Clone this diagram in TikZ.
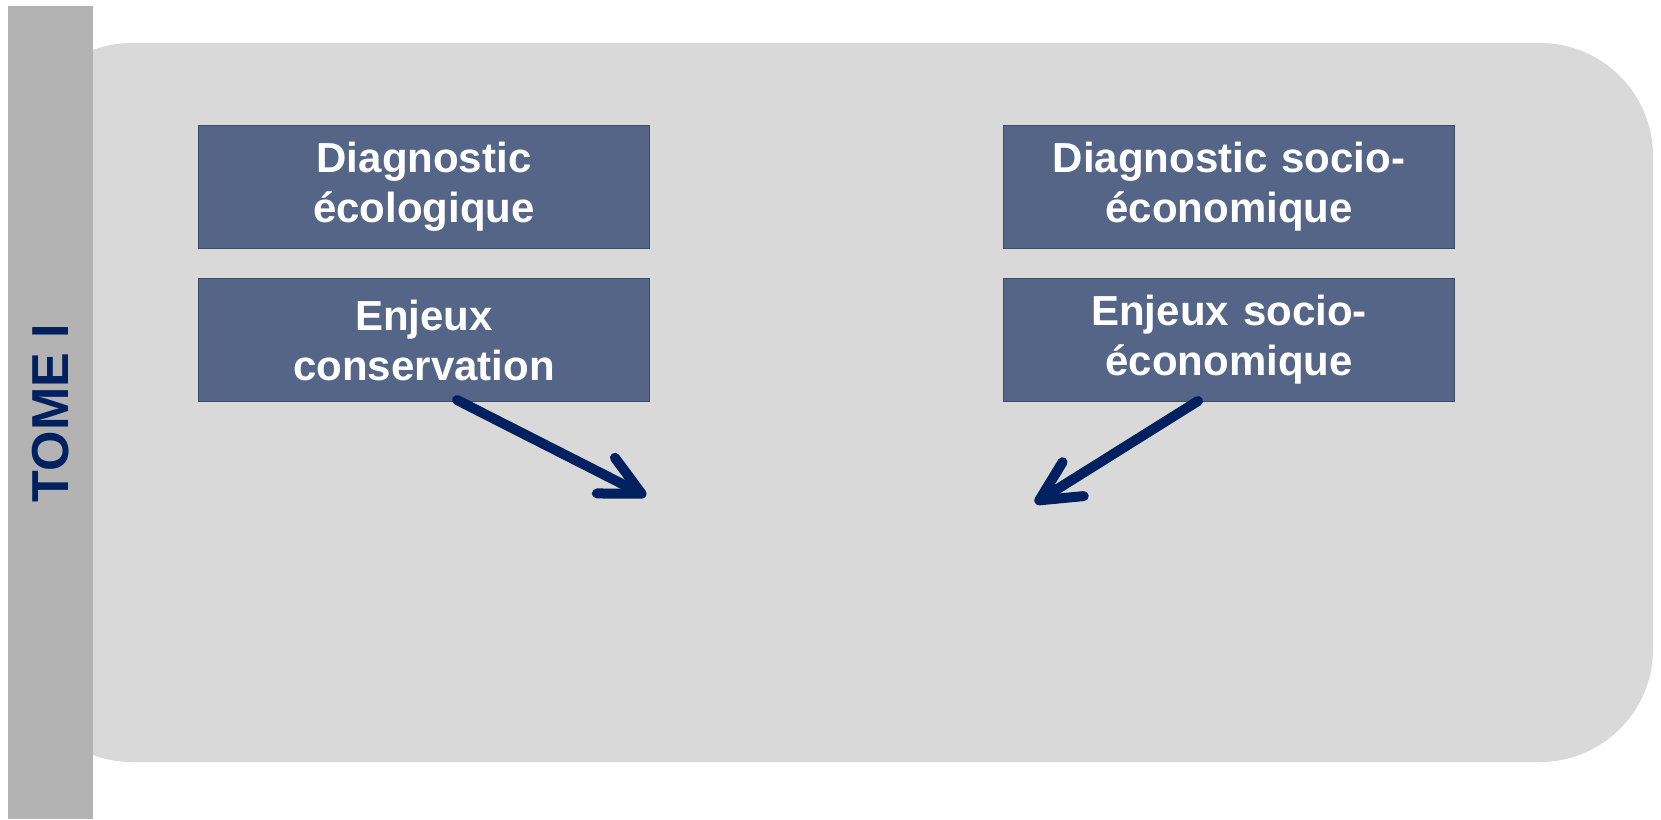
\documentclass[tikz,border=0pt]{standalone}
\usepackage{fontspec}
\setmainfont{Liberation Sans}
\usepackage{tikz}
\usetikzlibrary{arrows.meta,positioning,calc}
\definecolor{panelgray}{RGB}{217,217,217}
\definecolor{bargray}{RGB}{179,179,179}
\definecolor{boxblue}{RGB}{84,101,136}
\definecolor{navy}{RGB}{0,32,96}
\tikzset{
        block/.style = {draw=boxblue!75!black, line width=1pt, fill=boxblue,
            rectangle, inner sep=0pt,
            minimum height=123pt,
            minimum width=451pt,
            text width=440pt, align=center, text=white,
            font=\fontsize{42}{50}\selectfont\bfseries},
        arrow/.style = {draw=navy, line width=10pt, line cap=round,
            -{Straight Barb[length=40pt,width=40pt,round]}},
    }

\begin{document}
\begin{tikzpicture}[x=1pt, y=-1pt, node distance=29pt]
		\useasboundingbox (0,0) rectangle (1661,819);
		% background panel and side bar
		\fill[panelgray, rounded corners=113pt] (19,43) rectangle (1653,762);
		\fill[bargray] (8,6) rectangle (93,819);
		\node[rotate=90, text=navy, font=\fontsize{52}{60}\selectfont\bfseries] (tome) at (51,413) {TOME I};
		% boxes
		\node[block, anchor=north west] (diagEco) at (198,125) {Diagnostic\\écologique};
		\node[block, below=of diagEco] (enjeuxEco) {Enjeux\\conservation};
		\node[block, anchor=north west] (diagSocio) at (1003,125) {Diagnostic socio-\\économique};
		\node[block, below=of diagSocio] (enjeuxSocio) {Enjeux socio-\\économique};
		% arrows
		\coordinate (tipEco) at (646,496);
		\coordinate (tipSocio) at (1035,503);
		\draw[arrow] ([xshift=33pt,yshift=2pt]enjeuxEco.south) -- (tipEco);
		\draw[arrow] ([xshift=-31pt,yshift=1pt]enjeuxSocio.south) -- (tipSocio);
\end{tikzpicture}
\end{document}
